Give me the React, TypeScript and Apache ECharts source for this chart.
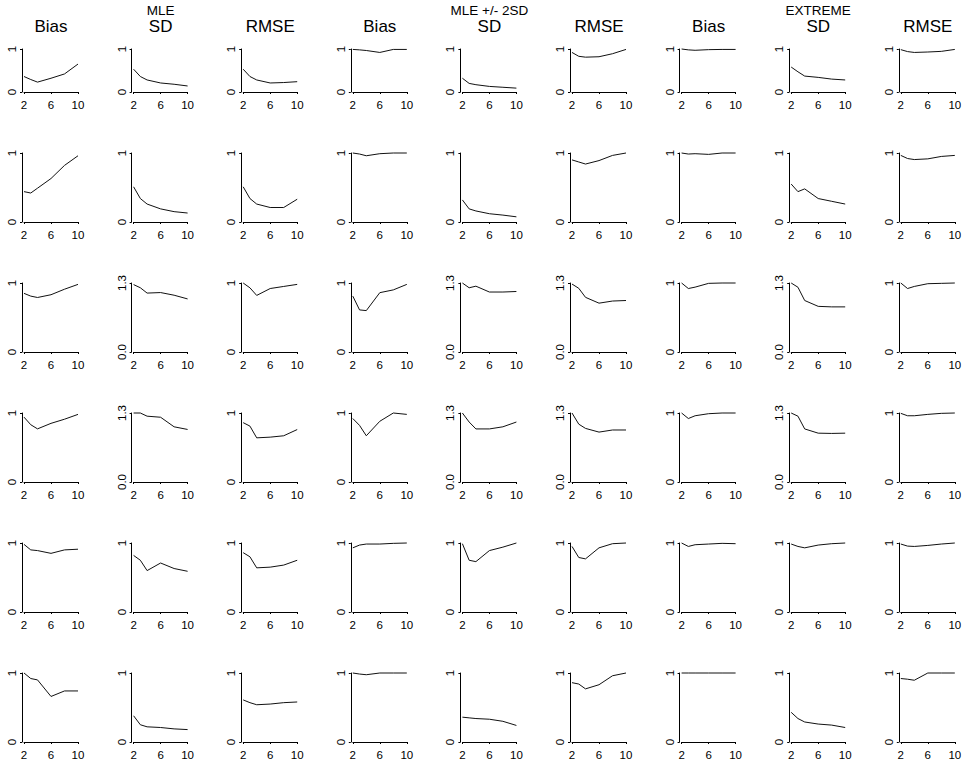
import React, { useEffect, useRef } from "react";
import * as echarts from "echarts";

// ---------- data ----------
const xValues = [2, 3, 4, 6, 8, 10];
const xTicks = [2, 6, 10];
const methodNames = ["MLE", "MLE +/- 2SD", "EXTREME"];
const metricNames = ["Bias", "SD", "RMSE"];

const mleBias = [
  [0.36, 0.29, 0.23, 0.32, 0.42, 0.65],
  [0.44, 0.42, 0.49, 0.63, 0.82, 0.96],
  [0.85, 0.81, 0.79, 0.83, 0.91, 0.98],
  [0.94, 0.83, 0.77, 0.85, 0.91, 0.98],
  [0.98, 0.9, 0.89, 0.85, 0.9, 0.91],
  [1.0, 0.92, 0.9, 0.66, 0.74, 0.74],
];
const mleSD = [
  [0.53, 0.36, 0.28, 0.21, 0.18, 0.14],
  [0.51, 0.34, 0.26, 0.19, 0.15, 0.13],
  [1.27, 1.21, 1.11, 1.12, 1.07, 1.0],
  [1.3, 1.3, 1.24, 1.22, 1.04, 0.99],
  [0.82, 0.75, 0.6, 0.71, 0.63, 0.59],
  [0.38, 0.25, 0.22, 0.21, 0.19, 0.18],
];
const mleRMSE = [
  [0.53, 0.36, 0.28, 0.21, 0.22, 0.24],
  [0.51, 0.34, 0.26, 0.21, 0.21, 0.33],
  [1.0, 0.93, 0.82, 0.92, 0.95, 0.98],
  [0.86, 0.81, 0.64, 0.65, 0.67, 0.76],
  [0.86, 0.8, 0.64, 0.65, 0.68, 0.75],
  [0.61, 0.57, 0.54, 0.55, 0.57, 0.58],
];
const sdBias = [
  [0.99, 0.98, 0.965, 0.92, 0.99, 0.99],
  [1.0, 0.985, 0.96, 0.99, 1.0, 1.0],
  [0.81, 0.61, 0.6, 0.86, 0.9, 0.98],
  [0.92, 0.82, 0.67, 0.88, 1.0, 0.98],
  [0.93, 0.97, 0.985, 0.985, 0.995, 1.0],
  [1.0, 0.985, 0.975, 1.0, 1.0, 1.0],
];
const sdSD = [
  [0.32, 0.2, 0.17, 0.13, 0.11, 0.09],
  [0.32, 0.19, 0.16, 0.12, 0.1, 0.075],
  [1.3, 1.21, 1.24, 1.13, 1.13, 1.14],
  [1.3, 1.13, 1.0, 1.0, 1.04, 1.13],
  [0.99, 0.75, 0.73, 0.89, 0.94, 1.0],
  [0.36, 0.35, 0.34, 0.33, 0.3, 0.24],
];
const sdRMSE = [
  [0.92, 0.83, 0.81, 0.82, 0.89, 0.99],
  [0.9, 0.87, 0.84, 0.89, 0.965, 1.0],
  [1.28, 1.2, 1.03, 0.92, 0.96, 0.97],
  [1.3, 1.09, 1.01, 0.94, 0.98, 0.98],
  [0.95, 0.79, 0.77, 0.93, 0.99, 1.0],
  [0.86, 0.84, 0.77, 0.83, 0.96, 1.0],
];
const extBias = [
  [1.0, 0.98, 0.97, 0.985, 0.99, 0.99],
  [1.0, 0.985, 0.99, 0.98, 1.0, 1.0],
  [1.0, 0.92, 0.94, 0.995, 1.0, 1.0],
  [1.0, 0.92, 0.96, 0.99, 1.0, 1.0],
  [1.0, 0.95, 0.975, 0.985, 0.995, 0.99],
  [1.0, 1.0, 1.0, 1.0, 1.0, 1.0],
];
const extSD = [
  [0.58, 0.47, 0.37, 0.34, 0.3, 0.28],
  [0.55, 0.44, 0.48, 0.34, 0.3, 0.26],
  [1.3, 1.22, 0.97, 0.86, 0.85, 0.85],
  [1.3, 1.24, 1.0, 0.92, 0.915, 0.92],
  [0.985, 0.95, 0.93, 0.97, 0.99, 1.0],
  [0.43, 0.34, 0.29, 0.26, 0.245, 0.21],
];
const extRMSE = [
  [0.985, 0.94, 0.92, 0.93, 0.945, 0.99],
  [0.965, 0.92, 0.905, 0.915, 0.95, 0.965],
  [1.0, 0.92, 0.95, 0.99, 0.995, 1.0],
  [0.995, 0.96, 0.96, 0.98, 0.995, 1.0],
  [0.985, 0.955, 0.95, 0.965, 0.985, 1.0],
  [0.92, 0.91, 0.895, 1.0, 1.0, 1.0],
];

// y-axis upper limit for each panel row of each column
const mleBiasTop = [1, 1, 1, 1, 1, 1];
const mleSDTop = [1, 1, 1.3, 1.3, 1, 1];
const mleRMSETop = [1, 1, 1, 1, 1, 1];
const sdBiasTop = [1, 1, 1, 1, 1, 1];
const sdSDTop = [1, 1, 1.3, 1.3, 1, 1];
const sdRMSETop = [1, 1, 1.3, 1.3, 1, 1];
const extBiasTop = [1, 1, 1, 1, 1, 1];
const extSDTop = [1, 1, 1.3, 1.3, 1, 1];
const extRMSETop = [1, 1, 1, 1, 1, 1];

const columns = [
  { values: mleBias, tops: mleBiasTop },
  { values: mleSD, tops: mleSDTop },
  { values: mleRMSE, tops: mleRMSETop },
  { values: sdBias, tops: sdBiasTop },
  { values: sdSD, tops: sdSDTop },
  { values: sdRMSE, tops: sdRMSETop },
  { values: extBias, tops: extBiasTop },
  { values: extSD, tops: extSDTop },
  { values: extRMSE, tops: extRMSETop },
];

// ---------- layout ----------
const FONT = "'Liberation Sans', Arial, Helvetica, sans-serif";
const axisX0 = 22;
const colStep = 109.6;
const plotGap = 2;
const plotWidth = 54;
const rowTops = [49, 153, 283, 413, 543, 673];
const rowBottoms = [92, 222, 352, 482, 612, 742];

export default function App() {
  const ref = useRef<HTMLDivElement>(null);

  useEffect(() => {
    if (!ref.current) return;
    const chart = echarts.init(ref.current, null, { renderer: "svg" });

    const grid: any[] = [];
    const xAxis: any[] = [];
    const yAxis: any[] = [];
    const series: any[] = [];
    const graphic: any[] = [];

    columns.forEach((col, c) => {
      const axisX = axisX0 + colStep * c;
      const left = axisX + plotGap;
      const centerX = left + plotWidth / 2;
      graphic.push({
        type: "text",
        x: centerX,
        y: 26.5,
        silent: true,
        style: {
          text: metricNames[c % 3],
          fill: "#000",
          fontSize: 17,
          fontWeight: "normal",
          fontFamily: FONT,
          textAlign: "center",
          textVerticalAlign: "middle",
        },
      });
      if (c % 3 === 1) {
        graphic.push({
          type: "text",
          x: centerX,
          y: 10.5,
          silent: true,
          style: {
            text: methodNames[Math.floor(c / 3)],
            fill: "#000",
            fontSize: 13.5,
            fontWeight: "normal",
            fontFamily: FONT,
            textAlign: "center",
            textVerticalAlign: "middle",
          },
        });
      }
      col.values.forEach((vals, r) => {
        const idx = grid.length;
        const top = col.tops[r];
        grid.push({
          left,
          top: rowTops[r],
          width: plotWidth,
          height: rowBottoms[r] - rowTops[r],
          containLabel: false,
          outerBoundsMode: "none",
        });
        xAxis.push({
          gridIndex: idx,
          type: "value",
          min: 2,
          max: 10,
          axisLine: { show: true, onZero: false, lineStyle: { color: "#000", width: 1 } },
          axisTick: { show: true, length: 2, customValues: xTicks, lineStyle: { color: "#000", width: 1 } },
          axisLabel: {
            show: true,
            customValues: xTicks,
            margin: 7,
            fontSize: 11.5,
            fontFamily: FONT,
            color: "#000",
            showMinLabel: true,
            showMaxLabel: true,
          },
          splitLine: { show: false },
        });
        const yTicks = [0, top];
        yAxis.push({
          gridIndex: idx,
          type: "value",
          min: 0,
          max: top,
          offset: plotGap,
          axisLine: { show: true, lineStyle: { color: "#000", width: 1 } },
          axisTick: { show: true, length: 2, customValues: yTicks, lineStyle: { color: "#000", width: 1 } },
          axisLabel: {
            show: true,
            customValues: yTicks,
            rotate: 90,
            margin: 4,
            fontSize: 11.5,
            fontFamily: FONT,
            color: "#000",
            showMinLabel: true,
            showMaxLabel: true,
            formatter: (v: number) => (top === 1 ? String(v) : v.toFixed(1)),
          },
          splitLine: { show: false },
        });
        series.push({
          type: "line",
          xAxisIndex: idx,
          yAxisIndex: idx,
          data: xValues.map((x, i) => [x, vals[i]]),
          symbol: "none",
          silent: true,
          clip: false,
          lineStyle: { color: "#111", width: 1 },
        });
      });
    });

    chart.setOption({
      animation: false,
      backgroundColor: "#fff",
      grid,
      xAxis,
      yAxis,
      series,
      graphic,
    });

    return () => chart.dispose();
  }, []);

  return (
    <div
      ref={ref}
      style={{ position: "fixed", left: 0, top: 0, width: 968, height: 765, background: "#fff" }}
    />
  );
}
